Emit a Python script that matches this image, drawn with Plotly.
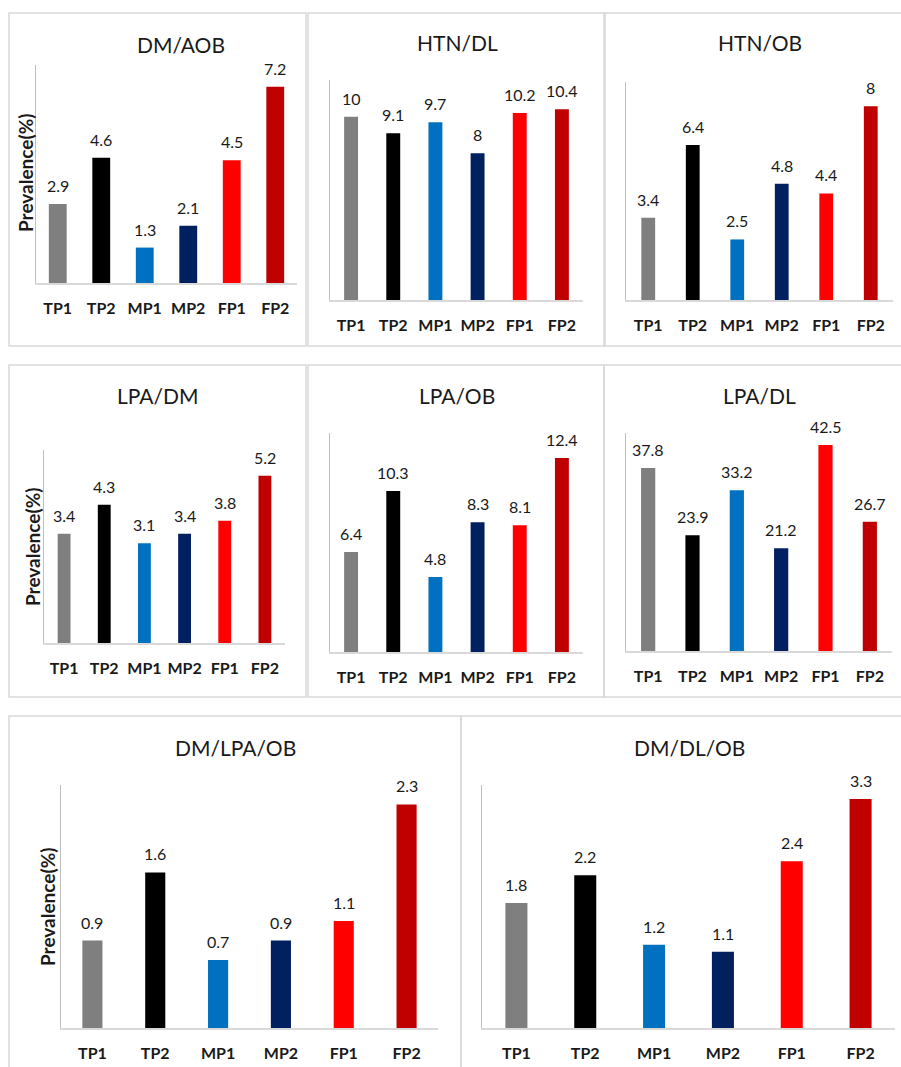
import plotly.graph_objects as go

W, H = 901, 1067

categories = ["TP1", "TP2", "MP1", "MP2", "FP1", "FP2"]
bar_colors = ["#7F7F7F", "#000000", "#0070C0", "#002060", "#FF0000", "#C00000"]

titles = ["DM/AOB", "HTN/DL", "HTN/OB", "LPA/DM", "LPA/OB", "LPA/DL", "DM/LPA/OB", "DM/DL/OB"]

dm_aob = [2.9, 4.6, 1.3, 2.1, 4.5, 7.2]
htn_dl = [10, 9.1, 9.7, 8, 10.2, 10.4]
htn_ob = [3.4, 6.4, 2.5, 4.8, 4.4, 8]
lpa_dm = [3.4, 4.3, 3.1, 3.4, 3.8, 5.2]
lpa_ob = [6.4, 10.3, 4.8, 8.3, 8.1, 12.4]
lpa_dl = [37.8, 23.9, 33.2, 21.2, 42.5, 26.7]
dm_lpa_ob = [0.9, 1.6, 0.7, 0.9, 1.1, 2.3]
dm_dl_ob = [1.8, 2.2, 1.2, 1.1, 2.4, 3.3]

series = [dm_aob, htn_dl, htn_ob, lpa_dm, lpa_ob, lpa_dl, dm_lpa_ob, dm_dl_ob]
y_max = [8, 12, 9, 6, 14, 45, 2.5, 3.5]

# layout (pixels): axis x-span, axis y-span (top, baseline), bar width, title pos
axis_x = [(36, 297), (330, 583), (626, 893), (44, 285), (330, 583), (626, 892), (61, 438), (482, 895)]
axis_y = [(65, 283), (80, 300), (82, 300), (450, 643), (433, 652), (433, 651), (785, 1028), (785, 1028)]
bar_w = [0.41, 0.33, 0.31, 0.32, 0.33, 0.32, 0.32, 0.32]
title_pos = [(181, 45), (457, 43), (760, 43), (158, 395), (457, 395), (759, 395), (235, 747), (689, 747)]
ytitle_pos = {0: (25, 173), 3: (32, 547), 6: (47, 907)}
borders = [(9, 13, 306, 346), (308, 13, 605, 346), (604, 13, 910, 346),
           (9, 365, 306, 697), (308, 365, 604, 697), (604, 365, 910, 697),
           (9, 716, 461, 1075), (461, 716, 910, 1075)]

FONT = "Lato"
TXT = "#1a1a1a"


def px(x):
    return x / W


def py(y):
    return 1 - y / H


fig = go.Figure()
annotations = []
shapes = []

for i, vals in enumerate(series):
    n = "" if i == 0 else str(i + 1)
    fig.add_trace(go.Bar(
        x=categories, y=vals, marker=dict(color=bar_colors, line=dict(width=0)),
        width=bar_w[i], xaxis="x" + n, yaxis="y" + n, showlegend=False,
        hoverinfo="x+y",
    ))
    x0, x1 = axis_x[i]
    ytop, ybase = axis_y[i]
    fig.update_layout(**{
        "xaxis" + n: dict(
            domain=[px(x0), px(x1)], anchor="y" + n, type="category",
            range=[-0.5, 5.5], showgrid=False, zeroline=False,
            showline=True, linecolor="#D9D9D9", linewidth=2,
            ticks="", ticklabelstandoff=10,
            tickfont=dict(family=FONT, size=16, color=TXT, weight="bold"),
            fixedrange=True,
        ),
        "yaxis" + n: dict(
            domain=[py(ybase), py(ytop)], anchor="x" + n, range=[0, y_max[i]],
            showgrid=False, zeroline=False, showticklabels=False, ticks="",
            showline=True, linecolor="#BFBFBF", linewidth=1, fixedrange=True,
        ),
    })
    xr = "x" + n
    yr = "y" + n
    for c, v in zip(categories, vals):
        annotations.append(dict(
            x=c, y=v, xref=xr, yref=yr, text=f"{v:g}", showarrow=False,
            yanchor="bottom", yshift=7,
            font=dict(family=FONT, size=16, color=TXT),
        ))
    tx, ty = title_pos[i]
    annotations.append(dict(
        x=px(tx), y=py(ty), xref="paper", yref="paper", text=titles[i],
        showarrow=False, xanchor="center", yanchor="middle",
        font=dict(family=FONT, size=21, color=TXT),
    ))
    if i in ytitle_pos:
        yx, yy = ytitle_pos[i]
        annotations.append(dict(
            x=px(yx), y=py(yy), xref="paper", yref="paper", text="Prevalence(%)",
            showarrow=False, textangle=-90, xanchor="center", yanchor="middle",
            font=dict(family=FONT, size=19, color=TXT, weight="bold"),
        ))
    bx0, by0, bx1, by1 = borders[i]
    shapes.append(dict(
        type="rect", xref="paper", yref="paper",
        x0=px(bx0), x1=px(bx1), y0=py(by1), y1=py(by0),
        line=dict(color="#D9D9D9", width=1.5), fillcolor="rgba(0,0,0,0)", layer="below",
    ))

fig.update_layout(
    width=W, height=H, margin=dict(l=0, r=0, t=0, b=0),
    paper_bgcolor="white", plot_bgcolor="white",
    annotations=annotations, shapes=shapes, bargap=0.6,
    font=dict(family=FONT),
)

fig.write_html(
    "out.html",
    config={"displayModeBar": False},
    post_script="document.body.style.margin='0';document.body.style.overflow='hidden';",
)
